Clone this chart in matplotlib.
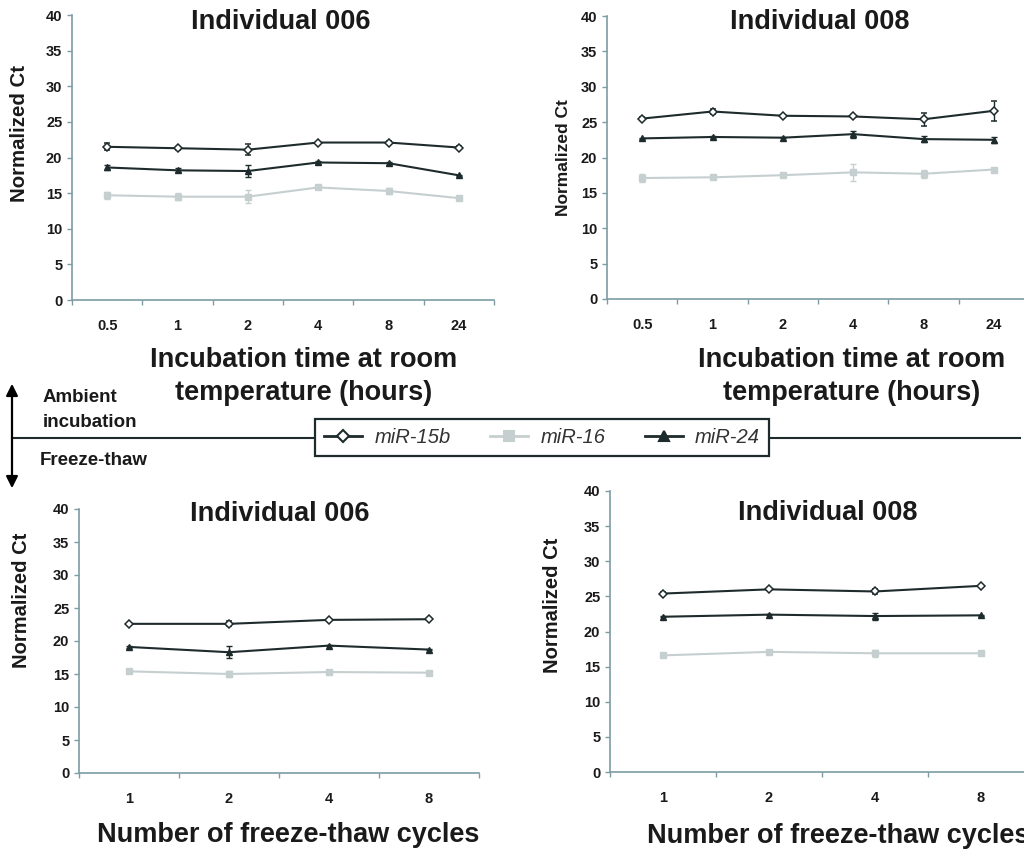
import matplotlib
matplotlib.use("Agg")
import matplotlib.pyplot as plt
from matplotlib.lines import Line2D
import numpy as np

plt.rcParams['font.family'] = ['Liberation Sans', 'DejaVu Sans']

# ---------------- data ----------------
hours_labels = ["0.5", "1", "2", "4", "8", "24"]
cycles_labels = ["1", "2", "4", "8"]
series_names = ["miR-15b", "miR-16", "miR-24"]

# Ambient incubation, Individual 006
amb006_15b = [21.5, 21.3, 21.1, 22.1, 22.1, 21.4]
amb006_15b_err = [0.5, 0.2, 0.8, 0.1, 0.2, 0.2]
amb006_16 = [14.7, 14.5, 14.5, 15.8, 15.3, 14.3]
amb006_16_err = [0.5, 0.5, 0.9, 0.1, 0.4, 0.1]
amb006_24 = [18.6, 18.2, 18.1, 19.3, 19.2, 17.5]
amb006_24_err = [0.4, 0.3, 0.9, 0.2, 0.2, 0.1]

# Ambient incubation, Individual 008
amb008_15b = [25.5, 26.5, 25.9, 25.8, 25.4, 26.6]
amb008_15b_err = [0.2, 0.3, 0.1, 0.1, 0.9, 1.4]
amb008_16 = [17.1, 17.2, 17.5, 17.9, 17.7, 18.3]
amb008_16_err = [0.5, 0.3, 0.2, 1.2, 0.6, 0.1]
amb008_24 = [22.7, 22.9, 22.8, 23.3, 22.6, 22.5]
amb008_24_err = [0.1, 0.2, 0.1, 0.5, 0.4, 0.4]

# Freeze-thaw, Individual 006
ft006_15b = [22.6, 22.6, 23.2, 23.3]
ft006_15b_err = [0.1, 0.4, 0.1, 0.1]
ft006_16 = [15.4, 15.0, 15.3, 15.2]
ft006_16_err = [0.1, 0.5, 0.1, 0.2]
ft006_24 = [19.1, 18.3, 19.3, 18.7]
ft006_24_err = [0.1, 0.9, 0.1, 0.1]

# Freeze-thaw, Individual 008
ft008_15b = [25.4, 26.0, 25.7, 26.5]
ft008_15b_err = [0.2, 0.1, 0.3, 0.1]
ft008_16 = [16.6, 17.1, 16.9, 16.9]
ft008_16_err = [0.1, 0.1, 0.5, 0.1]
ft008_24 = [22.1, 22.4, 22.2, 22.3]
ft008_24_err = [0.1, 0.1, 0.5, 0.1]

yticks = [0, 5, 10, 15, 20, 25, 30, 35, 40]

# ---------------- style ----------------
W, H = 1024, 849
fig = plt.figure(figsize=(W / 100, H / 100), dpi=100)
fig.patch.set_facecolor("white")

DARK = "#1e2b2c"
LIGHT = "#c6cfcf"
SPINE = "#7d9ca4"
TXT = "#1a1a1a"

styles = {
    "miR-15b": dict(color=DARK, marker="D", mfc="white", mec=DARK, ms=4.2, mew=1.1),
    "miR-16": dict(color=LIGHT, marker="s", mfc=LIGHT, mec=LIGHT, ms=5, mew=1),
    "miR-24": dict(color=DARK, marker="^", mfc=DARK, mec=DARK, ms=5, mew=1),
}


def px_rect(left, top, width, height):
    return [left / W, 1 - (top + height) / H, width / W, height / H]


def panel(rect, labels, data, title, title_xy, ylab_xy, ylab_size):
    ax = fig.add_axes(rect)
    n = len(labels)
    x = np.arange(n)
    for name, (vals, errs) in zip(series_names, data):
        st = styles[name]
        ax.errorbar(x, vals, yerr=errs, color=st["color"], lw=1.5,
                    marker=st["marker"], mfc=st["mfc"], mec=st["mec"],
                    ms=st["ms"], mew=st["mew"], ecolor=st["color"],
                    elinewidth=1.0, capsize=2.5, capthick=1.0,
                    zorder=3 if name != "miR-16" else 2, clip_on=False)
    ax.set_xlim(-0.5, n - 0.5)
    ax.set_ylim(0, 40)
    ax.set_yticks(yticks)
    ax.set_yticklabels([str(v) for v in yticks], fontsize=10.5,
                       fontweight="bold", color=TXT)
    ax.set_xticks(x)
    ax.set_xticklabels(labels, fontsize=10.5, fontweight="bold", color=TXT)
    ax.set_xticks(np.arange(n + 1) - 0.5, minor=True)
    ax.tick_params(axis="x", which="major", length=0, pad=14)
    ax.tick_params(axis="x", which="minor", length=3.5, width=1,
                   color=SPINE, direction="out")
    ax.tick_params(axis="y", length=3.5, width=1, color=SPINE, pad=3.5)
    for s in ["top", "right"]:
        ax.spines[s].set_visible(False)
    for s in ["left", "bottom"]:
        ax.spines[s].set_color(SPINE)
        ax.spines[s].set_linewidth(1.2)
    ax.patch.set_alpha(0)
    fig.text(title_xy[0] / W, 1 - title_xy[1] / H, title, ha="center",
             va="baseline", fontsize=19.5, fontweight="bold", color=TXT)
    fig.text(ylab_xy[0] / W, 1 - ylab_xy[1] / H, "Normalized Ct",
             rotation=90, ha="center", va="center", fontsize=ylab_size,
             fontweight="bold", color=TXT)
    return ax


panel(px_rect(72, 15, 422, 285), hours_labels,
      [(amb006_15b, amb006_15b_err), (amb006_16, amb006_16_err),
       (amb006_24, amb006_24_err)],
      "Individual 006", (281, 29), (20, 133), 14.7)
panel(px_rect(607, 16, 422, 283), hours_labels,
      [(amb008_15b, amb008_15b_err), (amb008_16, amb008_16_err),
       (amb008_24, amb008_24_err)],
      "Individual 008", (820, 29), (563, 158), 12.5)
panel(px_rect(79, 509, 400, 264), cycles_labels,
      [(ft006_15b, ft006_15b_err), (ft006_16, ft006_16_err),
       (ft006_24, ft006_24_err)],
      "Individual 006", (280, 521), (22, 600), 14.5)
panel(px_rect(610, 491, 424, 281), cycles_labels,
      [(ft008_15b, ft008_15b_err), (ft008_16, ft008_16_err),
       (ft008_24, ft008_24_err)],
      "Individual 008", (828, 520), (552, 605), 14.5)

# x-axis titles
for cx in (304, 852):
    fig.text(cx / W, 1 - 367 / H, "Incubation time at room", ha="center",
             va="baseline", fontsize=19.5, fontweight="bold", color=TXT)
    fig.text(cx / W, 1 - 400 / H, "temperature (hours)", ha="center",
             va="baseline", fontsize=19.5, fontweight="bold", color=TXT)
fig.text(288 / W, 1 - 842 / H, "Number of freeze-thaw cycles", ha="center",
         va="baseline", fontsize=19.5, fontweight="bold", color=TXT)
fig.text(647 / W, 1 - 843 / H, "Number of freeze-thaw cycles", ha="left",
         va="baseline", fontsize=19.5, fontweight="bold", color=TXT)

# divider line and arrow
fig.add_artist(Line2D([12 / W, 1020 / W], [1 - 438 / H, 1 - 438 / H],
                      color=DARK, lw=1.5, zorder=1))
fig.add_artist(matplotlib.patches.FancyArrowPatch(
    (12 / W, 1 - 491 / H), (12 / W, 1 - 381 / H),
    arrowstyle="<|-|>,head_length=7,head_width=3.5", color="black", lw=1.6,
    transform=fig.transFigure, zorder=2))
fig.text(43 / W, 1 - 402 / H, "Ambient", ha="left", va="baseline",
         fontsize=13.5, fontweight="bold", color=TXT)
fig.text(43 / W, 1 - 427 / H, "incubation", ha="left", va="baseline",
         fontsize=13.5, fontweight="bold", color=TXT)
fig.text(40 / W, 1 - 465 / H, "Freeze-thaw", ha="left", va="baseline",
         fontsize=13.5, fontweight="bold", color=TXT)

# legend
handles = []
for name in series_names:
    st = styles[name]
    handles.append(Line2D([], [], color=st["color"], lw=2, marker=st["marker"],
                          mfc=st["mfc"], mec=st["mec"], ms=st["ms"] + 2,
                          mew=1.5))
leg = fig.legend(handles, series_names, loc="center",
                 bbox_to_anchor=(542 / W, 1 - 437.5 / H), ncol=3,
                 frameon=True, fancybox=False, edgecolor=DARK,
                 prop=dict(size=14.5, style="italic"), handlelength=1.9,
                 handletextpad=0.6, columnspacing=1.95, borderpad=0.45)
leg.get_frame().set_linewidth(1.6)
leg.get_frame().set_facecolor("white")
leg.get_frame().set_alpha(1)
leg.set_zorder(5)
for t in leg.get_texts():
    t.set_color("#333333")

fig.savefig("out.png", dpi=100, facecolor="white")
